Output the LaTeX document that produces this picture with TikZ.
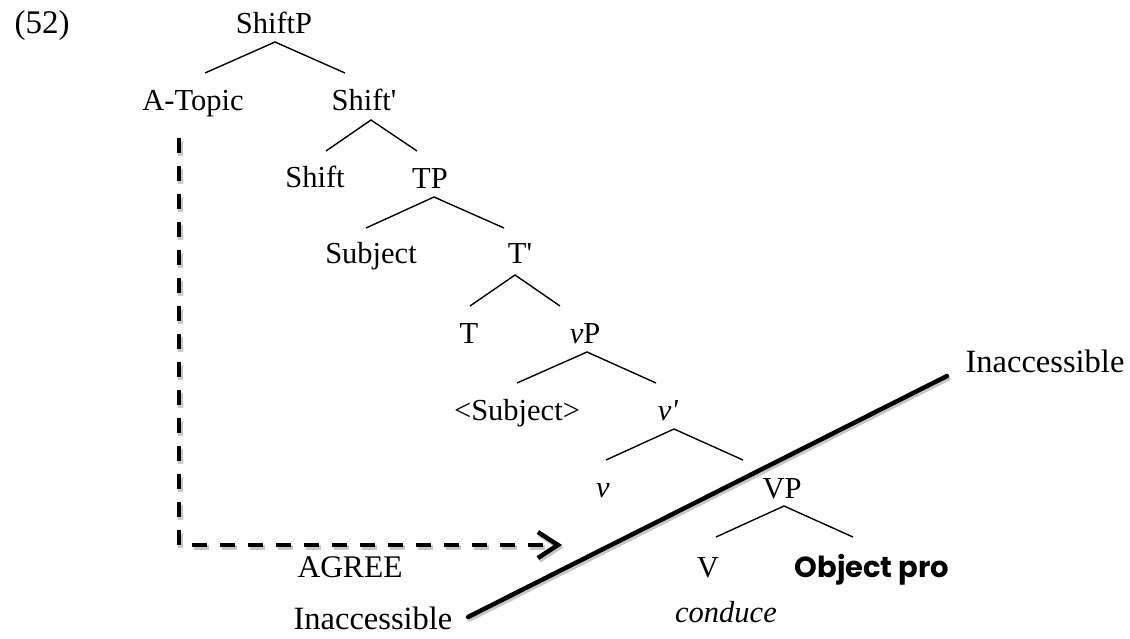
\documentclass[tikz,border=0pt]{standalone}
\usepackage{fontspec}
\setmainfont{Liberation Serif}
\newfontfamily\objfont{Poppins}
\usetikzlibrary{arrows.meta,calc}
\newcommand\treebranch[3]{\draw[br] ($(#1)+(#2,31)$) -- (#1) -- ($(#1)+(#3,31)$);}
\newcommand\pr{\textquotesingle}
\begin{document}
\begin{tikzpicture}[x=1pt,y=-1pt,
  lbl/.style={anchor=base,inner sep=0pt,font=\fontsize{30.5}{36}\selectfont},
  side/.style={anchor=base,inner sep=0pt,font=\fontsize{32.5}{38}\selectfont},
  br/.style={line width=1.4pt},
  agree/.style={line width=4.5pt,dash pattern=on 15pt off 13pt,
    -{Straight Barb[length=20pt,width=26pt,line width=4.5pt]}},
  shadow/.style={draw=black!22,transform canvas={shift={(1.5pt,-2.5pt)}}},
  barrier/.style={line width=4.5pt,line cap=round}]
\useasboundingbox (0,0) rectangle (1130,638);

% example number
\node[lbl,font=\fontsize{33}{38}\selectfont] (num) at (42,33) {(52)};

% tree nodes
\node[lbl] (ShiftP) at (274,33) {ShiftP};
\node[lbl] (ATopic) at (193,110) {A-Topic};
\node[lbl] (ShiftBar) at (364,110) {Shift\pr};
\node[lbl] (Shift) at (315,187) {Shift};
\node[lbl] (TP) at (430,188) {TP};
\node[lbl] (Subject) at (371,263) {Subject};
\node[lbl] (TBar) at (520,263) {T\pr};
\node[lbl] (T) at (469,343) {T};
\node[lbl] (vP) at (585,343) {\textit{v}P};
\node[lbl] (SubjCopy) at (517,420) {<Subject>};
\node[lbl] (vBar) at (668,420) {\textit{v\pr}};
\node[lbl] (v) at (603,497) {\textit{v}};
\node[lbl] (VP) at (782,498) {VP};
\node[lbl] (V) at (708,577) {V};
\node[anchor=base,inner sep=0pt,font=\objfont\bfseries\fontsize{29}{34}\selectfont] (Obj) at (872,577) {Object pro};
\node[lbl] (conduce) at (726,622) {\textit{conduce}};
\node[lbl,font=\fontsize{31.5}{36}\selectfont] (agreelbl) at (350,577) {AGREE};
\node[side] (inaccTop) at (1045,372) {Inaccessible};
\node[side] (inaccBot) at (373,629) {Inaccessible};

% branch apexes
\coordinate (aShiftP) at (275,42);
\coordinate (aShiftBar) at (371,120);
\coordinate (aTP) at (434,197);
\coordinate (aTBar) at (515,275);
\coordinate (avP) at (587,352);
\coordinate (avBar) at (674,429);
\coordinate (aVP) at (784,506);

\treebranch{aShiftP}{-70}{70}
\treebranch{aShiftBar}{-45}{46}
\treebranch{aTP}{-68}{70}
\treebranch{aTBar}{-45}{45}
\treebranch{avP}{-70}{69}
\treebranch{avBar}{-68}{69}
\treebranch{aVP}{-68}{69}

% barrier line
\coordinate (bLow) at (468,617);
\coordinate (bHigh) at (947,376);
\draw[barrier,shadow] (bLow) -- (bHigh);
\draw[barrier] (bLow) -- (bHigh);

% AGREE arrow
\coordinate (agStart) at (179,138);
\coordinate (agEnd) at (562,545);
\draw[agree,shadow] (agStart) |- (agEnd);
\draw[agree] (agStart) |- (agEnd);
\end{tikzpicture}
\end{document}
